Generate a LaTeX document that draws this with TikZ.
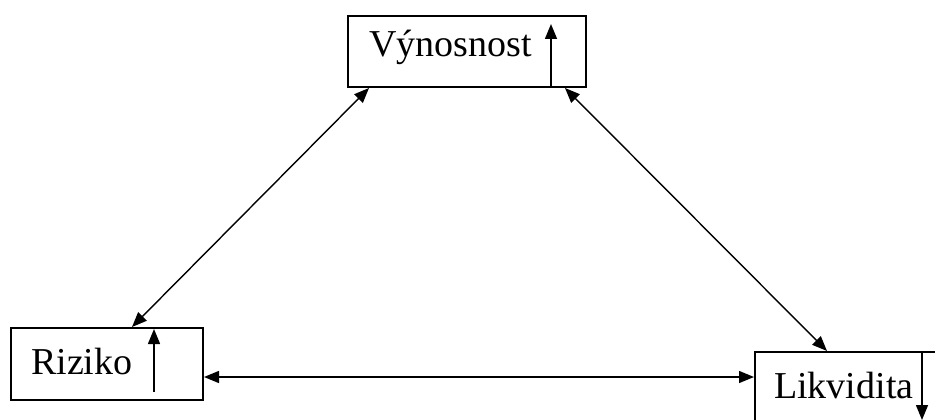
\documentclass[tikz,border=0pt]{standalone}
\usepackage{fontspec}
\setmainfont{Liberation Serif}
\usetikzlibrary{arrows.meta}
\begin{document}
\begin{tikzpicture}[x=1pt,y=-1pt,
  box/.style={draw,line width=1.8pt},
  label/.style={font=\fontsize{38}{42}\selectfont,inner sep=0pt,anchor=base west},
  tip/.style={-{Triangle[length=15pt,width=12pt]},line width=1.5pt},
  link/.style={{Triangle[length=15pt,width=12pt]}-{Triangle[length=15pt,width=12pt]},line width=1.4pt}]
\useasboundingbox (0,0) rectangle (935,420);
\clip (0,0) rectangle (935,420);
% boxes
\draw[box] (348,16) rectangle (586,87);
\draw[box] (11,328) rectangle (203,400);
\draw[box] (755,352) rectangle (950,440);
% labels
\node[label] (vyn) at (369,57) {Výnosnost};
\node[label] (riz) at (31,374) {Riziko};
\node[label] (lik) at (774,398) {Likvidita};
% connector end points on the box borders
\coordinate (vynL) at (369,88);
\coordinate (vynR) at (565,88);
\coordinate (rizT) at (132,327);
\coordinate (rizR) at (204,377);
\coordinate (likT) at (827,351);
\coordinate (likL) at (754,377);
% trend arrows inside the boxes
\coordinate (vynA0) at (551,87);
\coordinate (vynA1) at (551,24);
\coordinate (rizA0) at (154,392);
\coordinate (rizA1) at (154,329);
\coordinate (likA0) at (922,353);
\coordinate (likA1) at (922,420);
\draw[tip] (vynA0) -- (vynA1);
\draw[tip] (rizA0) -- (rizA1);
\draw[tip] (likA0) -- (likA1);
% relations between the three quantities
\draw[link] (rizT) -- (vynL);
\draw[link] (vynR) -- (likT);
\draw[link] (rizR) -- (likL);
\end{tikzpicture}
\end{document}
